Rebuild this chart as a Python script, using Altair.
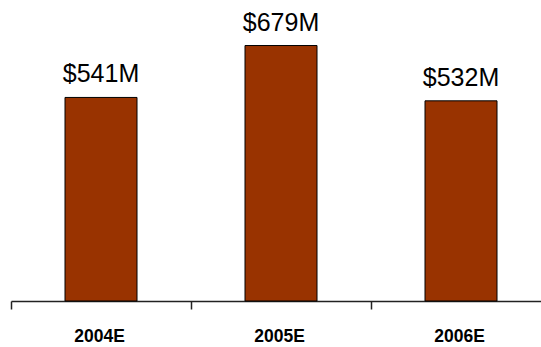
import altair as alt
import pandas as pd

years = ["2004E", "2005E", "2006E"]
values = [541, 679, 532]
labels = ["$541M", "$679M", "$532M"]

df = pd.DataFrame({"year": years, "value": values, "label": labels})

x = alt.X("year:N", sort=years, title=None,
          scale=alt.Scale(range=[0, 540], paddingInner=0, paddingOuter=0),
          axis=alt.Axis(labelAngle=0, labelFont="Liberation Sans", labelFontSize=17.5,
                        labelFontWeight="bold", labelColor="black", labelPadding=18,
                        labelOffset=-2,
                        tickBand="extent", tickSize=8, tickColor="#222222",
                        domainColor="#222222", domainWidth=1.5, tickWidth=1.5, grid=False))
y = alt.Y("value:Q", scale=alt.Scale(domain=[0, 800], nice=False), axis=None)

bars = alt.Chart(df).mark_bar(color="#993300", stroke="black", strokeWidth=1,
                              width=alt.RelativeBandSize(0.4)).encode(x=x, y=y)
text = alt.Chart(df).mark_text(font="Liberation Sans", fontSize=25, color="black",
                               baseline="alphabetic", dy=-15).encode(x=x, y=y, text="label:N")

chart = (bars + text).properties(
    width=530, height=301,
    padding={"left": 11, "top": 0, "right": 0, "bottom": 46},
    autosize=alt.AutoSizeParams(type="none"),
    background="white",
).configure_view(stroke=None)

chart.save("out.html", embed_options={"renderer": "svg", "actions": False})
